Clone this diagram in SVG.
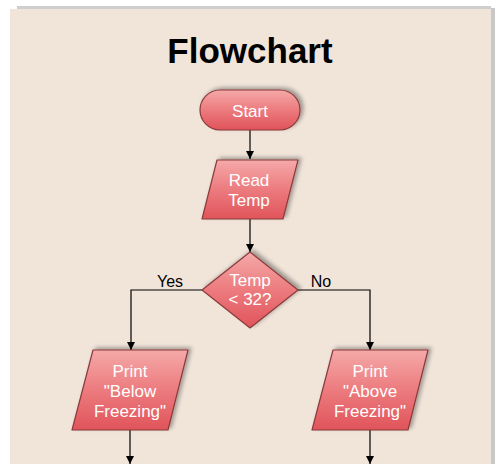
<svg xmlns="http://www.w3.org/2000/svg" width="500" height="464" viewBox="0 0 500 464">
<defs>
<linearGradient id="g" x1="0" y1="0" x2="0" y2="1">
<stop offset="0" stop-color="#f5a9a9"/>
<stop offset="0.5" stop-color="#ec7b7e"/>
<stop offset="1" stop-color="#e0545b"/>
</linearGradient>
<filter id="sh" x="-20%" y="-20%" width="150%" height="150%">
<feGaussianBlur in="SourceAlpha" stdDeviation="2"/>
<feOffset dx="3" dy="-2" result="b"/>
<feComponentTransfer><feFuncA type="linear" slope="0.35"/></feComponentTransfer>
<feMerge><feMergeNode/><feMergeNode in="SourceGraphic"/></feMerge>
</filter>
<marker id="ar" viewBox="0 0 10 10" refX="10" refY="5" markerWidth="8" markerHeight="8" orient="auto" markerUnits="userSpaceOnUse">
<path d="M0,0 L10,5 L0,10 z" fill="#000"/>
</marker>
</defs>
<style>
.shape{fill:url(#g);stroke:#8a3a3a;stroke-width:1.2;stroke-linejoin:round;filter:url(#sh)}
.t{font-family:"Liberation Sans",Arial,sans-serif;font-size:17px;fill:#fff;text-anchor:middle}
.lbl{font-family:"Liberation Sans",Arial,sans-serif;font-size:16px;fill:#000;text-anchor:middle}
.c{fill:none;stroke:#000;stroke-width:1.2}
</style>
<rect width="500" height="464" fill="#ffffff"/>
<rect x="17" y="6" width="474" height="3" fill="#cfcfcf"/>
<rect x="491" y="8" width="4" height="456" fill="#c8c8c8"/>
<rect x="10" y="9" width="481" height="455" fill="#f1e5da"/>
<text x="250" y="63" font-family="'Liberation Sans',Arial,sans-serif" font-size="35" font-weight="bold" text-anchor="middle" fill="#000">Flowchart</text>
<g id="connectors">
<path class="c" d="M250,130 V159" marker-end="url(#ar)"/>
<path class="c" d="M250,219 V252" marker-end="url(#ar)"/>
<path class="c" d="M202,290 H131 V350" marker-end="url(#ar)"/>
<path class="c" d="M298,290 H370 V350" marker-end="url(#ar)"/>
<path class="c" d="M130,430 V464" marker-end="url(#ar)"/>
<path class="c" d="M370,430 V464" marker-end="url(#ar)"/>
<text class="lbl" x="170" y="287">Yes</text>
<text class="lbl" x="321" y="287">No</text>
</g>
<g id="start">
<rect class="shape" x="200" y="90" width="100" height="40" rx="20"/>
<text class="t" x="250" y="117">Start</text>
</g>
<g id="read">
<path class="shape" d="M217,160 H298 L283,219 H202 Z"/>
<text class="t" x="249" y="186">Read</text>
<text class="t" x="249" y="206">Temp</text>
</g>
<g id="decision">
<path class="shape" d="M250,252 L298,290 L250,328 L202,290 Z"/>
<text class="t" x="250" y="286">Temp</text>
<text class="t" x="250" y="305">&lt; 32?</text>
</g>
<g id="below">
<path class="shape" d="M93,350 H188 L168,430 H72 Z"/>
<text class="t" x="130" y="377">Print</text>
<text class="t" x="130" y="397">"Below</text>
<text class="t" x="130" y="417">Freezing"</text>
</g>
<g id="above">
<path class="shape" d="M333,350 H428 L408,430 H312 Z"/>
<text class="t" x="370" y="377">Print</text>
<text class="t" x="370" y="397">"Above</text>
<text class="t" x="370" y="417">Freezing"</text>
</g>
</svg>
